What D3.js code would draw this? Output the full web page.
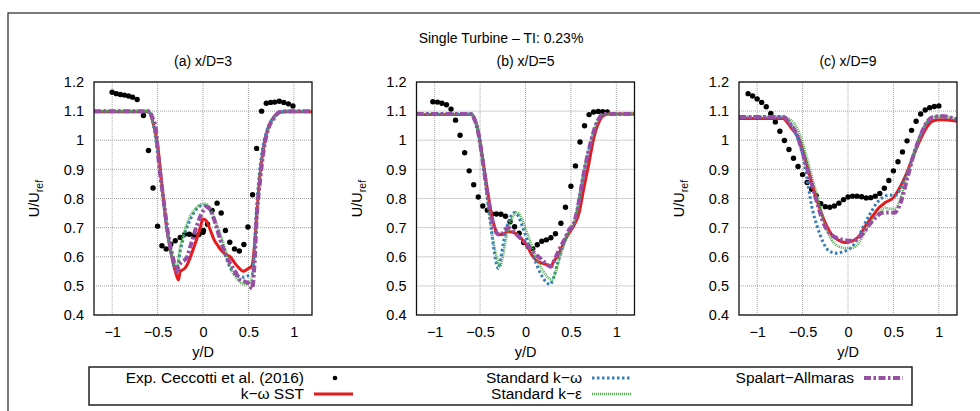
<!DOCTYPE html>
<html>
<head>
<meta charset="utf-8">
<script src="https://cdn.jsdelivr.net/npm/d3@7"></script>
<style>
  html, body { margin: 0; padding: 0; background: #fff; }
  svg { display: block; font-family: "Liberation Sans", Arial, Helvetica, sans-serif; }
</style>
</head>
<body>
<svg id="chart" width="980" height="411"></svg>
<script>
// Wake velocity profiles behind a single turbine, TI 0.23%
const figureTitle = "Single Turbine \u2013 TI: 0.23%";
const panelTitles = ["(a) x/D=3", "(b) x/D=5", "(c) x/D=9"];

const xTicks = [-1, -0.5, 0, 0.5, 1];
const xTickLabels = ["\u22121", "\u22120.5", "0", "0.5", "1"];
const yTicks = [0.4, 0.5, 0.6, 0.7, 0.8, 0.9, 1.0, 1.1, 1.2];
const yTickLabels = ["0.4", "0.5", "0.6", "0.7", "0.8", "0.9", "1", "1.1", "1.2"];

const seriesNames = ["Exp. Ceccotti et al. (2016)", "k\u2212\u03c9 SST", "Standard k\u2212\u03c9", "Standard k\u2212\u03b5", "Spalart\u2212Allmaras"];

// ---- x/D = 3 ----
const expA = [[-1.0,1.165],[-0.955,1.160],[-0.91,1.157],[-0.865,1.155],[-0.82,1.152],[-0.775,1.148],[-0.725,1.140],
  [-0.655,1.085],[-0.60,0.965],[-0.55,0.836],[-0.50,0.705],[-0.452,0.638],[-0.405,0.627],[-0.355,0.643],[-0.305,0.655],
  [-0.25,0.666],[-0.2,0.677],[-0.15,0.677],[-0.1,0.673],[-0.045,0.676],[0.0,0.684],[0.005,0.690],[0.05,0.712],[0.1,0.759],
  [0.155,0.784],[0.2,0.750],[0.247,0.690],[0.295,0.650],[0.347,0.627],[0.40,0.620],[0.45,0.642],[0.495,0.702],[0.546,0.813],
  [0.59,0.972],[0.645,1.100],[0.697,1.127],[0.745,1.130],[0.79,1.131],[0.84,1.134],[0.89,1.130],[0.94,1.125],[0.99,1.118]];
const sstA = [[-1.2,1.098],[-0.6,1.098],[-0.55,1.06],[-0.5,0.985],[-0.45,0.84],[-0.4,0.70],[-0.35,0.61],[-0.3,0.545],
  [-0.27,0.52],[-0.25,0.55],[-0.2,0.56],[-0.17,0.575],[-0.12,0.615],[-0.07,0.66],[-0.03,0.70],[0.0,0.73],[0.03,0.726],
  [0.07,0.70],[0.12,0.66],[0.17,0.635],[0.2,0.622],[0.25,0.608],[0.3,0.60],[0.35,0.578],[0.4,0.56],[0.44,0.55],[0.49,0.558],
  [0.54,0.57],[0.57,0.65],[0.6,0.78],[0.63,0.89],[0.67,0.98],[0.72,1.045],[0.78,1.08],[0.85,1.096],[0.9,1.098],[1.2,1.098]];
const kwA = [[-1.2,1.1],[-0.6,1.1],[-0.55,1.06],[-0.5,0.96],[-0.45,0.83],[-0.4,0.70],[-0.35,0.61],[-0.31,0.56],[-0.29,0.555],
  [-0.25,0.62],[-0.2,0.68],[-0.14,0.728],[-0.08,0.76],[-0.03,0.774],[0.02,0.776],[0.08,0.757],[0.13,0.72],[0.18,0.675],
  [0.23,0.62],[0.28,0.575],[0.34,0.543],[0.4,0.532],[0.45,0.53],[0.5,0.535],[0.54,0.54],[0.56,0.6],[0.58,0.72],[0.61,0.85],
  [0.65,0.96],[0.7,1.03],[0.77,1.075],[0.85,1.097],[0.9,1.1],[1.2,1.1]];
const keA = [[-1.2,1.1],[-0.6,1.1],[-0.55,1.06],[-0.5,0.96],[-0.45,0.83],[-0.4,0.70],[-0.35,0.62],[-0.31,0.575],[-0.29,0.566],
  [-0.25,0.635],[-0.2,0.69],[-0.14,0.74],[-0.08,0.766],[-0.02,0.78],[0.02,0.782],[0.08,0.766],[0.14,0.72],[0.2,0.67],
  [0.25,0.62],[0.3,0.566],[0.35,0.535],[0.4,0.515],[0.46,0.505],[0.5,0.508],[0.53,0.52],[0.56,0.58],[0.59,0.72],[0.62,0.86],
  [0.66,0.96],[0.71,1.03],[0.78,1.075],[0.85,1.097],[0.9,1.1],[1.2,1.1]];
const saA = [[-1.2,1.1],[-0.59,1.1],[-0.56,1.08],[-0.52,1.04],[-0.49,0.936],[-0.43,0.786],[-0.38,0.67],[-0.32,0.583],
  [-0.29,0.549],[-0.27,0.566],[-0.23,0.583],[-0.18,0.595],[-0.14,0.635],[-0.07,0.705],[0.0,0.757],[0.045,0.772],[0.08,0.762],
  [0.135,0.716],[0.19,0.658],[0.245,0.612],[0.3,0.577],[0.355,0.549],[0.41,0.52],[0.465,0.514],[0.51,0.506],[0.54,0.49],
  [0.565,0.566],[0.59,0.728],[0.63,0.866],[0.67,0.97],[0.72,1.04],[0.78,1.075],[0.85,1.098],[0.96,1.1],[1.2,1.1]];

// ---- x/D = 5 ----
const expB = [[-1.02,1.132],[-0.97,1.131],[-0.92,1.127],[-0.87,1.122],[-0.82,1.107],[-0.77,1.069],[-0.72,1.017],[-0.67,0.957],
  [-0.62,0.895],[-0.57,0.847],[-0.52,0.805],[-0.47,0.774],[-0.42,0.760],[-0.37,0.747],[-0.32,0.747],[-0.27,0.746],[-0.22,0.739],
  [-0.17,0.720],[-0.12,0.703],[-0.07,0.681],[-0.02,0.649],[0.03,0.635],[0.08,0.628],[0.13,0.641],[0.18,0.653],[0.23,0.658],
  [0.28,0.665],[0.33,0.679],[0.39,0.715],[0.44,0.770],[0.50,0.842],[0.55,0.912],[0.60,0.994],[0.65,1.050],[0.70,1.088],
  [0.75,1.097],[0.80,1.099],[0.85,1.098],[0.90,1.097]];
const sstB = [[-1.2,1.088],[-0.59,1.088],[-0.55,1.065],[-0.52,1.03],[-0.5,0.995],[-0.46,0.913],[-0.415,0.82],[-0.37,0.739],
  [-0.33,0.693],[-0.3,0.678],[-0.25,0.676],[-0.2,0.686],[-0.15,0.685],[-0.09,0.676],[-0.04,0.66],[0.02,0.635],[0.07,0.606],
  [0.13,0.585],[0.18,0.578],[0.24,0.572],[0.275,0.566],[0.31,0.583],[0.37,0.612],[0.42,0.647],[0.48,0.682],[0.53,0.705],
  [0.59,0.751],[0.64,0.832],[0.7,0.924],[0.75,1.005],[0.81,1.063],[0.86,1.085],[0.92,1.09],[1.2,1.09]];
const kwB = [[-1.2,1.09],[-0.6,1.09],[-0.56,1.07],[-0.53,1.04],[-0.5,0.99],[-0.46,0.9],[-0.42,0.8],[-0.38,0.7],[-0.35,0.63],
  [-0.32,0.575],[-0.3,0.56],[-0.27,0.6],[-0.23,0.67],[-0.18,0.725],[-0.12,0.752],[-0.08,0.74],[-0.03,0.7],[0.03,0.645],
  [0.1,0.59],[0.17,0.54],[0.23,0.512],[0.27,0.505],[0.31,0.53],[0.36,0.585],[0.42,0.645],[0.48,0.69],[0.53,0.712],[0.57,0.76],
  [0.61,0.83],[0.65,0.9],[0.7,0.97],[0.75,1.03],[0.8,1.07],[0.86,1.09],[1.2,1.09]];
const keB = [[-1.2,1.09],[-0.6,1.09],[-0.56,1.07],[-0.53,1.04],[-0.5,0.99],[-0.46,0.9],[-0.42,0.8],[-0.38,0.71],[-0.35,0.645],
  [-0.31,0.59],[-0.28,0.566],[-0.25,0.6],[-0.21,0.67],[-0.15,0.73],[-0.09,0.752],[-0.04,0.73],[0.02,0.68],[0.09,0.62],
  [0.16,0.57],[0.23,0.535],[0.29,0.521],[0.33,0.545],[0.38,0.6],[0.44,0.655],[0.49,0.695],[0.53,0.713],[0.57,0.76],[0.61,0.83],
  [0.65,0.9],[0.7,0.97],[0.75,1.03],[0.8,1.07],[0.86,1.09],[1.2,1.09]];
const saB = [[-1.2,1.09],[-0.6,1.09],[-0.56,1.07],[-0.53,1.04],[-0.5,0.99],[-0.46,0.905],[-0.42,0.82],[-0.38,0.745],
  [-0.34,0.695],[-0.31,0.678],[-0.27,0.675],[-0.22,0.695],[-0.19,0.70],[-0.12,0.683],[-0.05,0.662],[0.02,0.64],[0.1,0.612],
  [0.18,0.59],[0.24,0.572],[0.28,0.566],[0.32,0.59],[0.37,0.624],[0.43,0.66],[0.48,0.693],[0.53,0.713],[0.57,0.76],[0.61,0.83],
  [0.65,0.9],[0.7,0.97],[0.75,1.03],[0.8,1.07],[0.86,1.09],[1.2,1.09]];

// ---- x/D = 9 ----
const expC = [[-1.10,1.160],[-1.05,1.152],[-1.00,1.142],[-0.95,1.130],[-0.90,1.115],[-0.85,1.092],[-0.80,1.063],[-0.75,1.031],
  [-0.70,0.999],[-0.65,0.968],[-0.60,0.938],[-0.55,0.910],[-0.50,0.882],[-0.45,0.855],[-0.40,0.832],[-0.35,0.810],[-0.30,0.782],
  [-0.25,0.772],[-0.20,0.770],[-0.15,0.774],[-0.10,0.784],[-0.05,0.796],[0.00,0.805],[0.05,0.808],[0.10,0.808],[0.15,0.806],
  [0.20,0.802],[0.25,0.803],[0.30,0.808],[0.35,0.817],[0.40,0.835],[0.45,0.862],[0.50,0.895],[0.55,0.926],[0.60,0.960],
  [0.65,0.998],[0.70,1.034],[0.75,1.065],[0.80,1.090],[0.85,1.104],[0.90,1.112],[0.95,1.116],[1.00,1.118]];
const sstC = [[-1.2,1.075],[-0.72,1.075],[-0.62,1.04],[-0.54,1.005],[-0.47,0.936],[-0.4,0.855],[-0.32,0.774],[-0.25,0.716],
  [-0.18,0.676],[-0.1,0.656],[-0.03,0.649],[0.04,0.653],[0.12,0.67],[0.19,0.705],[0.27,0.739],[0.34,0.768],[0.41,0.786],
  [0.5,0.803],[0.58,0.843],[0.65,0.89],[0.72,0.947],[0.8,1.005],[0.87,1.046],[0.94,1.067],[1.02,1.07],[1.2,1.065]];
const kwC = [[-1.2,1.08],[-0.71,1.08],[-0.63,1.055],[-0.56,1.01],[-0.51,0.965],[-0.45,0.866],[-0.4,0.774],[-0.34,0.705],
  [-0.27,0.647],[-0.2,0.618],[-0.12,0.612],[-0.05,0.618],[0.03,0.63],[0.1,0.658],[0.17,0.705],[0.25,0.751],[0.32,0.786],
  [0.39,0.805],[0.45,0.812],[0.52,0.81],[0.58,0.835],[0.65,0.885],[0.72,0.95],[0.8,1.02],[0.87,1.06],[0.94,1.078],[1.02,1.08],[1.2,1.072]];
const keC = [[-1.2,1.08],[-0.72,1.08],[-0.66,1.075],[-0.6,1.06],[-0.54,1.028],[-0.47,0.959],[-0.4,0.878],[-0.32,0.786],
  [-0.25,0.705],[-0.18,0.658],[-0.1,0.635],[-0.03,0.63],[0.04,0.63],[0.12,0.647],[0.19,0.687],[0.27,0.728],[0.34,0.751],
  [0.41,0.768],[0.47,0.765],[0.52,0.765],[0.56,0.786],[0.63,0.855],[0.71,0.936],[0.8,1.017],[0.87,1.063],[0.94,1.08],[1.02,1.082],[1.2,1.072]];
const saC = [[-1.2,1.08],[-0.71,1.08],[-0.64,1.057],[-0.56,1.017],[-0.49,0.947],[-0.415,0.866],[-0.34,0.786],[-0.27,0.716],
  [-0.195,0.679],[-0.12,0.664],[-0.05,0.658],[0.03,0.655],[0.1,0.661],[0.17,0.682],[0.25,0.716],[0.32,0.739],[0.375,0.751],
  [0.45,0.752],[0.51,0.751],[0.58,0.786],[0.65,0.866],[0.72,0.947],[0.8,1.017],[0.87,1.063],[0.94,1.08],[1.02,1.083],[1.2,1.072]];

const expData = [expA, expB, expC];
const sstData = [sstA, sstB, sstC];
const kwData = [kwA, kwB, kwC];
const keData = [keA, keB, keC];
const saData = [saA, saB, saC];

// ---- styling of the model curves ----
const styles = {
  sst: { stroke: "#e41a1c", width: 3, dash: null },
  kw:  { stroke: "#377eb8", width: 3, dash: "2.5,2.5" },
  ke:  { stroke: "#4daf4a", width: 2.6, dash: "1,1" },
  sa:  { stroke: "#984ea3", width: 4, dash: "7,2.5,2.5,2.5" }
};

const svg = d3.select("#chart");
const font = "'Liberation Sans', Arial, Helvetica, sans-serif";
const ink = "#000";

// outer frame
svg.append("rect").attr("x", 8).attr("y", 13).attr("width", 1000).attr("height", 500)
  .attr("fill", "none").attr("stroke", "#222").attr("stroke-width", 1.2);

svg.append("text").attr("x", 501).attr("y", 43).attr("text-anchor", "middle")
  .attr("font-size", 14).attr("fill", ink).text(figureTitle);

const panelLeft = [94, 416.5, 739];
const plotW = 218, plotTop = 82, plotBottom = 315;

panelLeft.forEach((left, i) => {
  const x = d3.scaleLinear().domain([-1.2, 1.2]).range([left, left + plotW]);
  const y = d3.scaleLinear().domain([0.4, 1.2]).range([plotBottom, plotTop]);
  const g = svg.append("g");

  // grid
  g.append("g").selectAll("line").data(xTicks).join("line")
    .attr("x1", d => x(d)).attr("x2", d => x(d)).attr("y1", plotTop).attr("y2", plotBottom)
    .attr("stroke", "#9a9a9a").attr("stroke-width", 0.9).attr("stroke-dasharray", "1,1");
  g.append("g").selectAll("line").data(yTicks).join("line")
    .attr("x1", left).attr("x2", left + plotW).attr("y1", d => y(d)).attr("y2", d => y(d))
    .attr("stroke", "#9a9a9a").attr("stroke-width", 0.9).attr("stroke-dasharray", "1,1");

  // axes
  const yAxis = d3.axisLeft(y).tickValues(yTicks).tickSize(0).tickPadding(10)
    .tickFormat((d, k) => yTickLabels[k]);
  const xAxis = d3.axisBottom(x).tickValues(xTicks).tickSize(0).tickPadding(12)
    .tickFormat((d, k) => xTickLabels[k]);
  const ya = g.append("g").attr("transform", `translate(${left},0)`).call(yAxis);
  const xa = g.append("g").attr("transform", `translate(0,${plotBottom})`).call(xAxis);
  [ya, xa].forEach(a => {
    a.select(".domain").remove();
    a.selectAll("text").attr("font-size", 14.5).attr("font-family", font).attr("fill", ink);
  });

  // clip for curves
  const clipId = "clip" + i;
  svg.append("clipPath").attr("id", clipId).append("rect")
    .attr("x", left).attr("y", plotTop).attr("width", plotW).attr("height", plotBottom - plotTop);
  const plot = g.append("g").attr("clip-path", `url(#${clipId})`);

  // experiment points
  plot.append("g").selectAll("circle").data(expData[i]).join("circle")
    .attr("cx", d => x(d[0])).attr("cy", d => y(d[1])).attr("r", 2.7).attr("fill", "#000");

  const line = d3.line().x(d => x(d[0])).y(d => y(d[1])).curve(d3.curveMonotoneX);
  [["sst", sstData], ["kw", kwData], ["ke", keData], ["sa", saData]].forEach(([key, arr]) => {
    const s = styles[key];
    plot.append("path").datum(arr[i]).attr("d", line)
      .attr("fill", "none").attr("stroke", s.stroke).attr("stroke-width", s.width)
      .attr("stroke-dasharray", s.dash).attr("stroke-linejoin", "round");
  });

  // frame
  g.append("rect").attr("x", left).attr("y", plotTop).attr("width", plotW).attr("height", plotBottom - plotTop)
    .attr("fill", "none").attr("stroke", "#111").attr("stroke-width", 1.3);

  // titles and labels
  g.append("text").attr("x", left + plotW / 2).attr("y", 66).attr("text-anchor", "middle")
    .attr("font-size", 14).attr("fill", ink).text(panelTitles[i]);
  g.append("text").attr("x", left + plotW / 2).attr("y", 357).attr("text-anchor", "middle")
    .attr("font-size", 14.5).attr("fill", ink).text("y/D");
  const yl = g.append("text")
    .attr("transform", `translate(${left - 55},${(plotTop + plotBottom) / 2}) rotate(-90)`)
    .attr("text-anchor", "middle").attr("font-size", 14.5).attr("fill", ink);
  yl.append("tspan").text("U/U");
  yl.append("tspan").attr("font-size", 10.5).attr("dy", 4).text("ref");
});

// legend
const lg = svg.append("g");
lg.append("rect").attr("x", 89).attr("y", 367).attr("width", 823).attr("height", 38)
  .attr("fill", "#fff").attr("stroke", "#111").attr("stroke-width", 1.4);

const legendItems = [
  { name: seriesNames[0], tx: 304, ty: 383, kind: "dot" },
  { name: seriesNames[1], tx: 304, ty: 399, kind: "sst" },
  { name: seriesNames[2], tx: 582, ty: 383, kind: "kw" },
  { name: seriesNames[3], tx: 582, ty: 399, kind: "ke" },
  { name: seriesNames[4], tx: 854, ty: 383, kind: "sa" }
];
legendItems.forEach(it => {
  lg.append("text").attr("x", it.tx).attr("y", it.ty).attr("text-anchor", "end")
    .attr("font-size", 15.5).attr("fill", ink).text(it.name);
  const cy = it.ty - 5;
  if (it.kind === "dot") {
    lg.append("circle").attr("cx", it.tx + 31).attr("cy", cy).attr("r", 2.3).attr("fill", "#000");
  } else {
    const s = styles[it.kind];
    lg.append("line").attr("x1", it.tx + 10).attr("x2", it.tx + 49).attr("y1", cy).attr("y2", cy)
      .attr("stroke", s.stroke).attr("stroke-width", s.width).attr("stroke-dasharray", s.dash);
  }
});
</script>
</body>
</html>
